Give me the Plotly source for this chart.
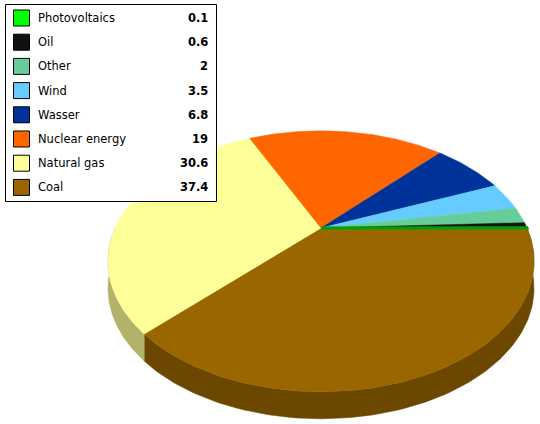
"""Electricity mix as a tilted 3D pie with a boxed value legend (top left)."""

import numpy as np
import plotly.graph_objects as go

# data (legend order, top to bottom)
sources = ["Photovoltaics", "Oil", "Other", "Wind", "Wasser",
           "Nuclear energy", "Natural gas", "Coal"]
shares = [0.1, 0.6, 2, 3.5, 6.8, 19, 30.6, 37.4]
share_text = ["0.1", "0.6", "2", "3.5", "6.8", "19", "30.6", "37.4"]
colors = ["#00FF00", "#111111", "#66CC99", "#66CCFF", "#003399",
          "#FF6600", "#FFFF99", "#996600"]

W, H = 540, 424
# pie geometry in pixels (perspective disc)
CX, CY = 321, 228
RX, RY = 206, 122
K = 0.255
DEPTH = 27


def darken(hex_color, f=0.7):
    h = hex_color.lstrip("#")
    r, g, b = (int(h[i:i + 2], 16) for i in (0, 2, 4))
    return "#%02X%02X%02X" % (int(r * f), int(g * f), int(b * f))


def project(theta, dy=0.0):
    u, v = np.cos(theta), np.sin(theta)
    d = 1 + K * v
    return CX + RX * u / d, CY - RY * v / d + dy


fig = go.Figure()

# pie is drawn clockwise from 3 o'clock, starting with the last legend item
order = list(range(len(sources)))[::-1]
total = sum(shares)
starts, ends = {}, {}
acc = 0.0
for i in order:
    a0 = -2 * np.pi * acc / total
    acc += shares[i]
    a1 = -2 * np.pi * acc / total
    starts[i], ends[i] = a0, a1

# side walls (only the front half, sin < 0, can be seen)
for i in order:
    lo = max(ends[i], -np.pi)
    hi = min(starts[i], 0.0)
    if hi <= lo:
        continue
    th = np.linspace(hi, lo, 120)
    xt, yt = project(th)
    xb, yb = project(th[::-1], DEPTH)
    fig.add_trace(go.Scatter(
        x=np.concatenate([xt, xb, xt[:1]]), y=np.concatenate([yt, yb, yt[:1]]),
        mode="lines", fill="toself", fillcolor=darken(colors[i]),
        line=dict(color=darken(colors[i]), width=0.5),
        hoverinfo="skip", showlegend=False))

# top faces
for i in order:
    n = max(4, int(abs(starts[i] - ends[i]) * 80))
    th = np.linspace(starts[i], ends[i], n)
    xa, ya = project(th)
    x = np.concatenate([[CX], xa, [CX]])
    y = np.concatenate([[CY], ya, [CY]])
    thin = shares[i] < 0.5
    line_col = "#00A000" if thin else colors[i]
    fig.add_trace(go.Scatter(
        x=x, y=y, mode="lines", fill="toself", fillcolor=colors[i],
        line=dict(color=line_col, width=3 if thin else 0.5),
        hoverinfo="skip", showlegend=False))

# boxed legend with values
font = dict(family="Verdana, DejaVu Sans, sans-serif", size=11.5, color="#000000")
shapes = [dict(type="rect", xref="x", yref="y", x0=5.5, y0=4.5, x1=216.5, y1=201.5,
               fillcolor="white", line=dict(color="black", width=1), layer="above")]
annotations = []
for k, name in enumerate(sources):
    yc = 18 + 24.2 * k
    shapes.append(dict(type="rect", xref="x", yref="y", x0=13.5, x1=29.5,
                       y0=yc - 8, y1=yc + 8, fillcolor=colors[k],
                       line=dict(color="black", width=1), layer="above"))
    annotations.append(dict(x=36, y=yc, xref="x", yref="y", text=name,
                            showarrow=False, xanchor="left", yanchor="middle",
                            font=font))
    annotations.append(dict(x=210, y=yc, xref="x", yref="y",
                            text=f"<b>{share_text[k]}</b>", showarrow=False,
                            xanchor="right", yanchor="middle", font=font))

fig.update_layout(
    width=W, height=H,
    margin=dict(l=0, r=0, t=0, b=0),
    paper_bgcolor="white", plot_bgcolor="white",
    xaxis=dict(range=[0, W], visible=False, fixedrange=True),
    yaxis=dict(range=[H, 0], visible=False, fixedrange=True),
    shapes=shapes, annotations=annotations,
    showlegend=False,
)
# drop the default body margin so the figure sits flush in the window
fig.write_html("out.html", config={"displayModeBar": False},
               post_script="document.body.style.margin='0';"
                           "document.body.style.overflow='hidden';")
